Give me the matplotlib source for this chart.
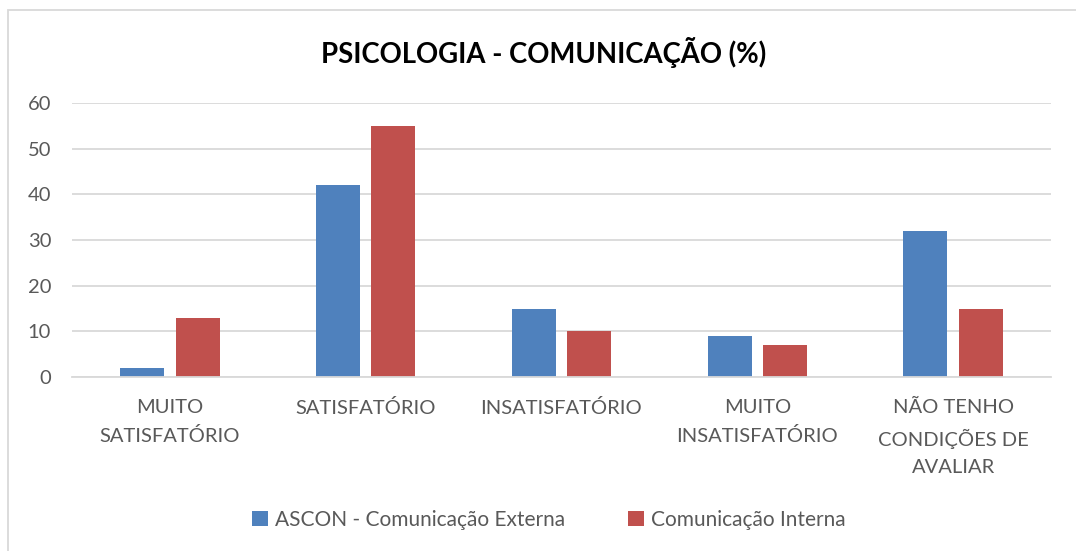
import numpy as np
import matplotlib.pyplot as plt
from matplotlib.patches import Rectangle

plt.rcParams['font.family'] = ['Lato', 'DejaVu Sans']

categorias = ["MUITO\nSATISFATÓRIO", "SATISFATÓRIO", "INSATISFATÓRIO",
              "MUITO\nINSATISFATÓRIO", "NÃO TENHO\nCONDIÇÕES DE\nAVALIAR"]
externa = [2, 42, 15, 9, 32]
interna = [13, 55, 10, 7, 15]
nomes = ["ASCON - Comunicação Externa", "Comunicação Interna"]

cinza = "#595959"

fig = plt.figure(figsize=(10.76, 5.51), dpi=100)
W, H = 1076, 551
# area do grafico em pixels: x 72..1051, y 103..377
ax = fig.add_axes([72 / W, 1 - 377 / H, (1051 - 72) / W, (377 - 103) / H])

x = np.arange(len(categorias))
larg = 0.225
ax.bar(x - 0.1415, externa, larg, color="#4F81BD", label=nomes[0])
ax.bar(x + 0.1415, interna, larg, color="#C0504D", label=nomes[1])

ax.set_xlim(-0.5, 4.5)
ax.set_ylim(0, 60)
ax.set_yticks(range(0, 61, 10))
ax.yaxis.grid(True, color="#D9D9D9", linewidth=1.3)
ax.set_axisbelow(True)
for s in ["top", "right", "left"]:
    ax.spines[s].set_visible(False)
ax.spines["bottom"].set_color("#D9D9D9")
ax.spines["bottom"].set_linewidth(1.3)
ax.tick_params(length=0)
ax.tick_params(axis="y", pad=15, labelsize=14.5, labelcolor=cinza)
ax.tick_params(axis="x", pad=16, labelsize=14.5, labelcolor=cinza)
ax.set_xticks(x)
ax.set_xticklabels(categorias, linespacing=1.72)

fig.text(544 / W, 1 - 52 / H, "PSICOLOGIA - COMUNICAÇÃO (%)", ha="center", va="center",
         fontsize=19.8, fontweight="bold", color="black")

fig.legend(loc="center", bbox_to_anchor=(549 / W, 1 - 520 / H), ncol=2, frameon=False,
           fontsize=15, labelcolor=cinza, handlelength=0.75, handleheight=0.75,
           handletextpad=0.35, columnspacing=3.0)

# moldura do grafico
fig.patches.append(Rectangle((8 / W, -0.1), 1.2, 1 - 10 / H + 0.1, transform=fig.transFigure,
                             fill=False, edgecolor="#D9D9D9", linewidth=1.3))

fig.savefig("out.png", dpi=100)
